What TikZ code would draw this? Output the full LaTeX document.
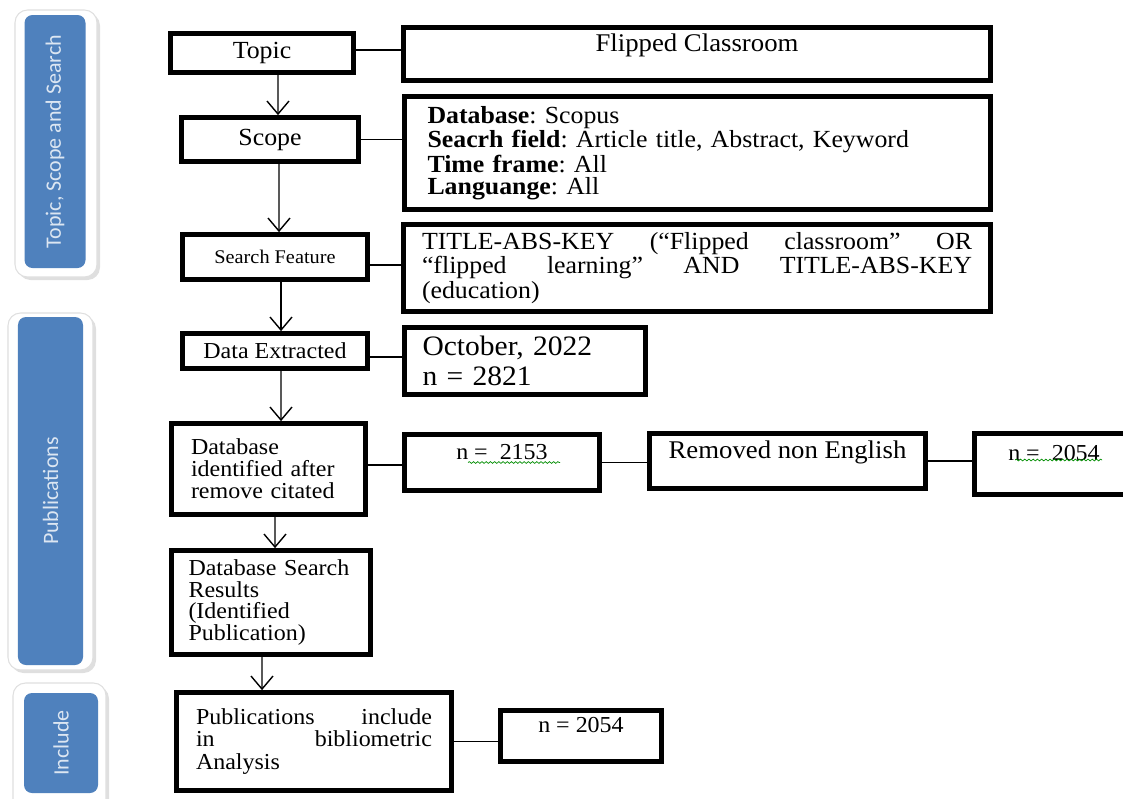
\documentclass[tikz,border=0pt]{standalone}
\usepackage{fontspec}
\setmainfont{Liberation Serif}[FakeStretch=1.05]
\newfontfamily\barfont{Carlito}
\usepackage{tikz}
\usetikzlibrary{positioning,arrows.meta,shadows,decorations.pathmorphing}
\definecolor{barblue}{HTML}{4F81BD}
\definecolor{bartext}{HTML}{DCE6F2}
\frenchspacing

\begin{document}
\begin{tikzpicture}[
    font=\fontsize{13}{12.5}\selectfont,
    box/.style={
        draw=black,
        line width=2.7pt,
        minimum width=3.7cm,
        minimum height=0.9cm,
        align=center,
        inner sep=2pt
    },
    info/.style={
        box,
        font=\fontsize{14}{12.5}\selectfont
    },
    shell/.style={
        draw=gray!25,
        fill=white,
        line width=0.6pt,
        rounded corners=2.5mm,
        drop shadow={opacity=0.25,shadow xshift=0.6mm,shadow yshift=-0.6mm}
    },
    band/.style={
        fill=barblue,
        rounded corners=1.6mm,
        text=bartext,
        font=\barfont\fontsize{12.5}{14}\selectfont
    },
    wavy/.style={
        draw=green!55!black,
        line width=0.4pt,
        decorate,
        decoration={snake,amplitude=0.5pt,segment length=2.4pt}
    },
    arr/.style={-{Straight Barb[length=2.6mm,width=4.4mm]}, line width=0.8pt},
    link/.style={line width=0.8pt}
]
\useasboundingbox (0,0) rectangle (22.46,-15.96);

% side bands
\node[shell, minimum width=1.64cm, minimum height=5.34cm] (shell1) at (1.12,-2.87) {};
\node[band, rotate=90, minimum width=5.06cm, minimum height=1.22cm] (band1) at (1.10,-2.83) {Topic, Scope and Search};

\node[shell, minimum width=1.70cm, minimum height=7.14cm] (shell2) at (1.01,-9.83) {};
\node[band, rotate=90, minimum width=6.96cm, minimum height=1.30cm] (band2) at (1.01,-9.82) {Publications};

\node[shell, minimum width=1.86cm, minimum height=2.64cm] (shell3) at (1.19,-14.98) {};
\node[band, rotate=90, minimum width=2.00cm, minimum height=1.48cm] (band3) at (1.22,-14.86) {Include};

% topic, scope and search
\node[box, font=\fontsize{14}{12.5}\selectfont, minimum width=3.66cm, minimum height=0.78cm] (topic) at (5.24,-1.06) {Topic};
\node[info, font=\fontsize{14.5}{12.8}\selectfont, minimum width=11.74cm, minimum height=1.06cm] (flip) at (13.94,-1.08)
{Flipped Classroom\\\mbox{}};

\node[box, font=\fontsize{14}{12.5}\selectfont, minimum width=3.54cm, minimum height=0.88cm] (scope) at (5.40,-2.79) {Scope};
\node[info, minimum width=11.72cm, minimum height=2.26cm, text width=10.8cm, align=left] (scopeinfo) at (13.95,-3.06)
{\textbf{Database}: Scopus\\
\textbf{Seacrh field}: Article title, Abstract, Keyword\\
\textbf{Time frame}: All\\
\textbf{Languange}: All};

\node[box, font=\fontsize{11}{13}\selectfont, minimum width=3.70cm, minimum height=0.90cm] (search) at (5.50,-5.14) {Search Feature};
\node[info, font=\fontsize{14}{14}\selectfont, minimum width=11.74cm, minimum height=1.74cm, text width=11.0cm, align=justify] (query) at (13.94,-5.36)
{TITLE-ABS-KEY (``Flipped classroom'' OR\linebreak
``flipped learning'' AND TITLE-ABS-KEY\linebreak
(education)};

% publications
\node[box, minimum width=3.70cm, minimum height=0.70cm] (extract) at (5.50,-7.02) {Data Extracted};
\node[box, font=\fontsize{16}{17}\selectfont, minimum width=4.82cm, minimum height=1.34cm, text width=4.1cm, align=left] (october) at (10.50,-7.22)
{October, 2022\\ n = 2821};

\node[box, minimum width=3.88cm, minimum height=1.82cm, text width=3.1cm, align=left] (dbid) at (5.37,-9.38)
{Database\\ identified after\\ remove citated};
\node[box, minimum width=3.90cm, minimum height=1.12cm] (n2153) at (10.04,-9.25) {n = \ 2153\\\mbox{}};
\node[box, font=\fontsize{14.5}{12.8}\selectfont, minimum width=5.52cm, minimum height=1.10cm] (removed) at (15.75,-9.22)
{Removed non English\\\mbox{}};
\node[box, minimum width=3.18cm, minimum height=1.22cm] (n2054a) at (21.08,-9.28) {n = \ 2054\\\mbox{}};

\node[box, font=\fontsize{13}{12.2}\selectfont, minimum width=3.98cm, minimum height=2.08cm, text width=3.3cm, align=left] (dbsr) at (5.42,-12.05)
{Database Search\\ Results\\ (Identified\\ Publication)};

% include
\node[box, font=\fontsize{13}{13}\selectfont, minimum width=5.50cm, minimum height=1.96cm, text width=4.72cm, align=justify] (pubinc) at (6.28,-14.83)
{Publications include\linebreak in bibliometric\linebreak Analysis};
\node[box, minimum width=3.22cm, minimum height=1.02cm] (n2054b) at (11.62,-14.72) {n = 2054\\\mbox{}};

% spell-check marks
\draw[wavy] ([xshift=-0.68cm]n2153.center) -- ([xshift=1.16cm]n2153.center);
\draw[wavy] ([xshift=-0.78cm,yshift=0.08cm]n2054a.center) -- ([xshift=0.96cm,yshift=0.08cm]n2054a.center);

% main flow
\draw[arr] ([xshift=3.2mm]topic.south) -- ([xshift=1.6mm]scope.north);
\draw[arr] ([xshift=1.8mm]scope.south) -- ([xshift=0.8mm]search.north);
\draw[arr] ([xshift=1.2mm]search.south) -- ([xshift=1.2mm]extract.north);
\draw[arr] ([xshift=1.2mm]extract.south) -- ([xshift=2.5mm]dbid.north);
\draw[arr] ([xshift=1.3mm]dbid.south) -- ([xshift=0.8mm]dbsr.north);
\draw[arr] ([xshift=-1.8mm]dbsr.south) -- ([xshift=-10.4mm]pubinc.north);

% side links
\draw[link] ([yshift=0.6mm]topic.east) -- ([yshift=0.6mm]topic.east -| flip.west);
\draw[link] (scope.east) -- (scope.east -| scopeinfo.west);
\draw[link] ([yshift=-1.6mm]search.east) -- ([yshift=-1.6mm]search.east -| query.west);
\draw[link] ([yshift=-1.2mm]extract.east) -- ([yshift=-1.2mm]extract.east -| october.west);
\draw[link] ([yshift=0.8mm]dbid.east) -- ([yshift=0.8mm]dbid.east -| n2153.west);
\draw[link] (n2153.east) -- (n2153.east -| removed.west);
\draw[link] (removed.east) -- (removed.east -| n2054a.west);
\draw[link] (pubinc.east) -- (pubinc.east -| n2054b.west);

\end{tikzpicture}
\end{document}
